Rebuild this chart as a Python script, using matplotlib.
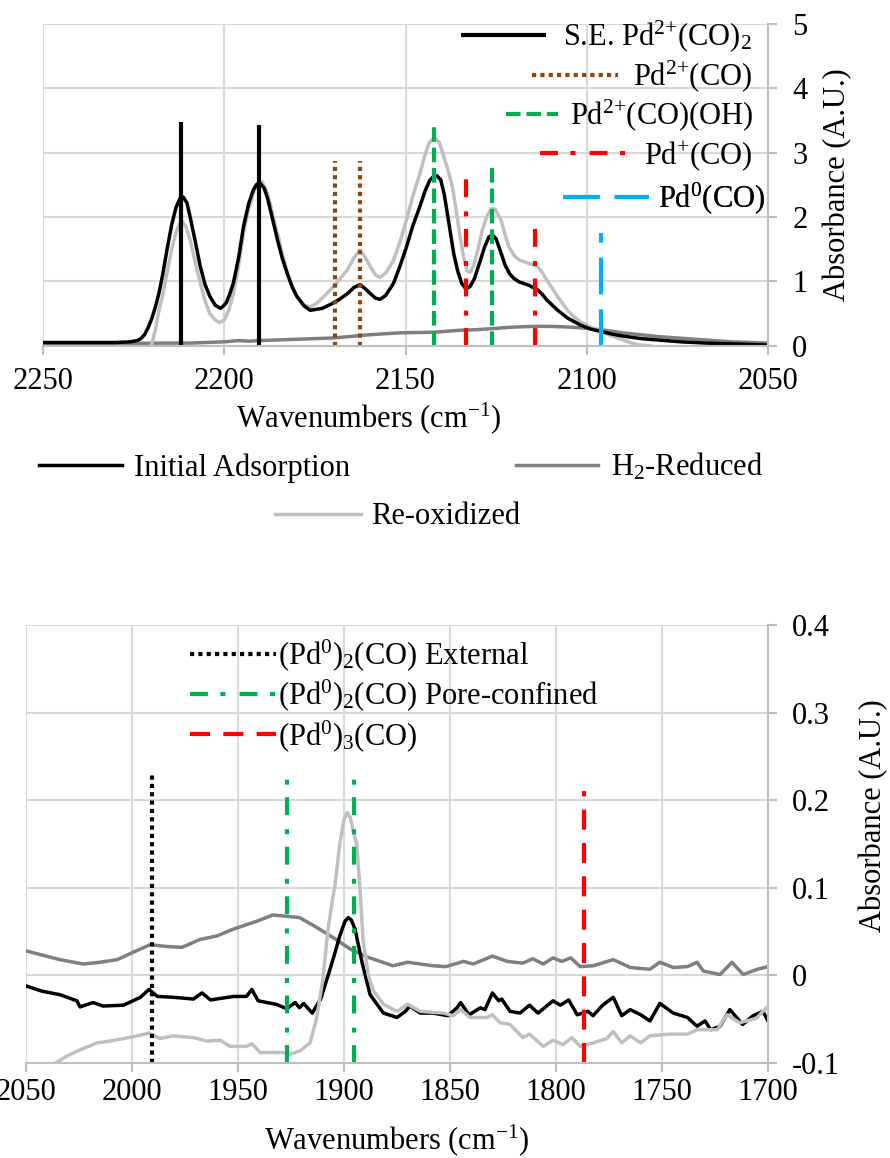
import matplotlib
matplotlib.use('Agg')

import matplotlib.pyplot as plt
import numpy as np

plt.rcParams['font.family'] = ['Liberation Serif', 'DejaVu Serif']
plt.rcParams['mathtext.fontset'] = 'custom'
plt.rcParams['mathtext.rm'] = 'Liberation Serif'
plt.rcParams['mathtext.it'] = 'Liberation Serif:italic'
plt.rcParams['mathtext.bf'] = 'Liberation Serif:bold'
plt.rcParams['axes.unicode_minus'] = False

# ---------------- top panel data (2250-2050 cm-1) ----------------
top_init_wn = [2250, 2240, 2230, 2226, 2224, 2223, 2222, 2221, 2220, 2219, 2218, 2217, 2215.8,
               2214.5, 2213.3, 2212.2, 2211.3, 2210.3, 2209.4, 2208, 2206.6, 2205.3, 2204,
               2202.5, 2201, 2199.5, 2198.5, 2197.5, 2196, 2194.7, 2193.3, 2192, 2191, 2190.2,
               2189, 2188, 2186.6, 2185.3, 2184, 2182.6, 2181.3, 2180, 2178, 2176.3, 2173,
               2170, 2168, 2166, 2164.3, 2162.6, 2161.2, 2159.7, 2158.3, 2157, 2155.5, 2153.3,
               2151.5, 2149.7, 2148, 2146, 2144.5, 2143.3, 2142.3, 2141.3, 2140.3, 2139.3,
               2138.3, 2136.7, 2135.6, 2134.5, 2133.3, 2132.2, 2131, 2129.5, 2128.2, 2127,
               2126, 2125, 2123.7, 2122.5, 2121.3, 2120, 2118.6, 2116, 2113.6, 2112.3, 2111,
               2108, 2105.3, 2101.7, 2099, 2096, 2093, 2090, 2085, 2080.7, 2074, 2067, 2058,
               2050]
top_init_abs = [0.05, 0.05, 0.05, 0.06, 0.08, 0.11, 0.17, 0.28, 0.42, 0.6, 0.82, 1.1, 1.49,
                1.88, 2.15, 2.29, 2.31, 2.22, 2.0, 1.62, 1.23, 0.95, 0.77,
                0.63, 0.58, 0.66, 0.8, 0.97, 1.38, 1.85, 2.2, 2.42, 2.51, 2.53,
                2.45, 2.28, 1.95, 1.64, 1.36, 1.12, 0.92, 0.77, 0.62, 0.55, 0.58,
                0.66, 0.73, 0.81, 0.9, 0.95, 0.89, 0.81, 0.74, 0.72, 0.78, 0.97,
                1.24, 1.54, 1.86, 2.17, 2.42, 2.57, 2.63, 2.64, 2.58, 2.35,
                2.0, 1.43, 1.16, 0.97, 0.88, 0.92, 1.04, 1.3, 1.53, 1.69,
                1.72, 1.66, 1.45, 1.25, 1.12, 1.04, 0.99, 0.94, 0.87, 0.8, 0.71,
                0.55, 0.43, 0.32, 0.26, 0.22, 0.18, 0.15, 0.11, 0.09, 0.06, 0.04, 0.025,
                0.01]

top_red_wn = [2250, 2230, 2220, 2210, 2200, 2196, 2193, 2190, 2180, 2170, 2160, 2151.6,
              2142, 2135, 2130, 2125, 2120, 2115, 2110, 2105, 2100, 2095, 2090, 2085, 2080,
              2075, 2070, 2065, 2060, 2055, 2050]
top_red_abs = [0.03, 0.03, 0.04, 0.04, 0.06, 0.08, 0.07, 0.08, 0.1, 0.12, 0.17, 0.2,
               0.21, 0.24, 0.25, 0.27, 0.29, 0.3, 0.3, 0.29, 0.27, 0.24, 0.2, 0.17, 0.14,
               0.12, 0.1, 0.08, 0.06, 0.05, 0.04]

top_reox_wn = [2222, 2221, 2220, 2219, 2218, 2217, 2215.8, 2214.5, 2213.3, 2212.3, 2211.5,
               2210.5, 2209.4, 2208, 2206.6, 2205.3, 2204, 2202.5, 2201.3, 2200, 2198.7,
               2197.5, 2196, 2194.7, 2193.3, 2192, 2190.8, 2189.6, 2188.3, 2187.3, 2186.5,
               2185, 2183.8, 2182.4, 2181, 2179.5, 2178, 2176.3, 2174.5, 2172.6, 2169.5,
               2167.8, 2166, 2164.3, 2162.6, 2161.2, 2159.7, 2158.3, 2157, 2155.3, 2153.3,
               2151.5, 2149.7, 2148, 2146, 2144.7, 2143.5, 2142.5, 2141.5, 2140.6, 2139.5,
               2138.4, 2137, 2136, 2135, 2134, 2133, 2132.2, 2131.2, 2130, 2128.8, 2127.5,
               2126.3, 2125.3, 2123.7, 2122.5, 2121.5, 2120, 2118.6, 2116, 2113.6, 2112.3,
               2111, 2109.5, 2108, 2105.3, 2103.5, 2101.7, 2099, 2096, 2093, 2090, 2087.5,
               2085.5, 2083, 2080, 2070, 2050]
top_reox_abs = [-0.1, -0.05, 0.02, 0.25, 0.55, 0.78, 1.13, 1.5, 1.76, 1.9, 1.93,
                1.84, 1.64, 1.3, 0.97, 0.7, 0.5, 0.4, 0.36, 0.4, 0.56,
                0.81, 1.25, 1.75, 2.12, 2.37, 2.51, 2.55, 2.4, 2.2, 2.0,
                1.68, 1.38, 1.1, 0.87, 0.72, 0.63, 0.6, 0.66, 0.76, 0.94,
                1.06, 1.18, 1.36, 1.49, 1.38, 1.23, 1.1, 1.06, 1.14, 1.33,
                1.62, 1.96, 2.32, 2.68, 2.95, 3.15, 3.21, 3.21, 3.15, 2.95,
                2.75, 2.45, 2.1, 1.72, 1.38, 1.16, 1.14, 1.25, 1.5, 1.8, 2.02,
                2.13, 2.12, 1.96, 1.72, 1.54, 1.4, 1.33, 1.28, 1.23, 1.14,
                1.02, 0.89, 0.76, 0.55, 0.45, 0.37, 0.29, 0.22, 0.15, 0.09, 0.04,
                0.01, 0.0, -0.03, -0.1, -0.1]

# assignment markers (position, height)
se_wn, se_h = [2212, 2190.5], [3.48, 3.43]
pd2co_wn, pd2co_h = [2169.5, 2162.6], [2.87, 2.87]
pd2oh_wn, pd2oh_h = [2142.2, 2126.2], [3.45, 2.84]
pd1_wn, pd1_h = [2133.4, 2114.3], [2.72, 1.95]
pd0_wn, pd0_h = [2096.1], [1.75]

top_xticks = [2250, 2200, 2150, 2100, 2050]
top_yticks = [0, 1, 2, 3, 4, 5]

# ---------------- bottom panel data (2050-1700 cm-1) ----------------
bot_init_wn = [2050, 2042.5, 2034, 2026, 2024.5, 2018.4, 2013.6, 2004, 1996, 1992, 1988, 1980.4,
               1971, 1967, 1963, 1952, 1946, 1943.5, 1940.5, 1932, 1927, 1923, 1921, 1919,
               1915, 1911, 1906.6, 1904, 1902, 1899.5, 1898, 1896.5, 1894.8, 1891.5, 1887.7,
               1881.4, 1875, 1871,
               1869, 1864, 1858, 1851, 1846.7, 1845, 1841, 1835.7, 1833.5, 1830, 1827, 1825.6,
               1821.7, 1817, 1812.5, 1808.5, 1801.4, 1798, 1794, 1790, 1785, 1782.5, 1778,
               1773, 1769, 1765, 1760, 1755.7, 1751, 1744.7, 1738, 1733.5, 1729.7, 1727,
               1722.6, 1718, 1712, 1707, 1702.4, 1700]
bot_init_abs = [-0.012, -0.018, -0.022, -0.029, -0.036, -0.031, -0.035, -0.034, -0.025, -0.016,
                -0.024, -0.025, -0.027, -0.02, -0.028, -0.024, -0.024, -0.016, -0.029, -0.033,
                -0.038, -0.031, -0.037, -0.032, -0.043, -0.027, 0.007, 0.028, 0.045, 0.062,
                0.066, 0.063, 0.053, 0.015, -0.022,
                -0.043, -0.048, -0.041, -0.035, -0.043, -0.043, -0.046, -0.037,
                -0.031, -0.045, -0.037, -0.039, -0.02, -0.029, -0.027, -0.041, -0.043, -0.034,
                -0.043, -0.029, -0.034, -0.028, -0.045, -0.041, -0.046, -0.034, -0.025, -0.046,
                -0.039, -0.045, -0.052, -0.032, -0.043, -0.048, -0.058, -0.052, -0.062, -0.058,
                -0.039, -0.056, -0.046, -0.041, -0.052]

bot_red_wn = [2050, 2034, 2023, 2015, 2007, 1998, 1991.5, 1983.5, 1976.4, 1968, 1960, 1952,
              1941, 1933.5, 1921, 1913, 1905, 1897, 1889, 1877, 1870, 1858, 1852, 1843.6,
              1839, 1830, 1823, 1815.6, 1811, 1806, 1801.4, 1797.3, 1793, 1788.6, 1782.5,
              1773, 1765, 1755.7, 1751, 1744.7, 1738, 1733.5, 1730.5, 1722.6, 1717, 1711.7,
              1705, 1700]
bot_red_abs = [0.028, 0.018, 0.013, 0.015, 0.018, 0.028, 0.035, 0.033, 0.032, 0.041, 0.045,
               0.053, 0.062, 0.069, 0.066, 0.055, 0.043, 0.03, 0.021, 0.011, 0.015, 0.011,
               0.01, 0.016, 0.013, 0.022, 0.016, 0.014, 0.019, 0.013, 0.02, 0.016, 0.02, 0.01,
               0.011, 0.018, 0.009, 0.007, 0.015, 0.009, 0.01, 0.015, 0.005, 0.001, 0.015,
               0.001, 0.007, 0.01]

bot_reox_wn = [2050, 2042, 2036, 2030.7, 2024.5, 2016.5, 2010.4, 1999.5, 1992, 1986.8, 1980.6,
               1971, 1964.6, 1958.5, 1953.8, 1946, 1943.4, 1939.6, 1928.6, 1925.5, 1920.7,
               1916, 1913, 1910, 1907.5, 1905.5, 1904.3, 1902, 1900, 1898.5, 1897, 1895.5, 1894,
               1892.5, 1891, 1888.5, 1886,
               1881.4, 1875, 1870, 1864, 1853, 1848.5, 1845, 1840.6, 1832.5, 1830, 1826.4,
               1821.7, 1815.6, 1812.5, 1806, 1801.4, 1796.7, 1792.5, 1788.6, 1782.5, 1776,
               1773, 1769, 1765, 1760, 1755.7, 1746, 1738, 1733.5, 1724, 1719.3, 1713.4,
               1705.5, 1700]
bot_reox_abs = [-0.125, -0.112, -0.1, -0.092, -0.085, -0.077, -0.075, -0.07, -0.066, -0.072,
                -0.069, -0.071, -0.075, -0.074, -0.081, -0.081, -0.078, -0.088, -0.088, -0.09,
                -0.086, -0.077, -0.05, -0.005, 0.053, 0.085, 0.102, 0.15, 0.178, 0.186, 0.18,
                0.163, 0.15, 0.1, 0.04,
                0.0, -0.018, -0.033, -0.041, -0.033, -0.041, -0.043, -0.046, -0.039, -0.048,
                -0.048, -0.045, -0.054, -0.056, -0.071, -0.067, -0.081, -0.074, -0.079, -0.071,
                -0.081, -0.077, -0.072, -0.064, -0.077, -0.069, -0.077, -0.069, -0.067, -0.067,
                -0.062, -0.062, -0.045, -0.054, -0.049, -0.035]

ext_wn, ext_h = [1990.7], [0.232]
pore_wn, pore_h = [1927, 1895.1], [0.232, 0.237]
pd3_wn, pd3_h = [1787], [0.211]

bot_xticks = [2050, 2000, 1950, 1900, 1850, 1800, 1750, 1700]
bot_yticks = [-0.1, 0, 0.1, 0.2, 0.3, 0.4]
bot_ylabels = ['-0.1', '0', '0.1', '0.2', '0.3', '0.4']

# ---------------- styles ----------------
FS = 22
GRID = '#d9d9d9'
AXC = '#bfbfbf'
C_INIT, C_RED, C_REOX = 'black', '#7f7f7f', '#bfbfbf'
BROWN, GREEN, RED, BLUE = '#8b4513', '#00b050', '#ff0000', '#00b0f0'
SQDOT = (0, (1, 1))
DASH = (0, (3.5, 1.4))
DASHDOT = (0, (4.3, 3, 1.2, 3.4))
LONGDASH = (0, (8.8, 3.6))
DASH2 = (0, (4.8, 3.2))


def style_axes(ax, xticks, xpad):
    for s in ['top', 'left']:
        ax.spines[s].set_visible(False)
    for s in ['bottom', 'right']:
        ax.spines[s].set_color(AXC)
        ax.spines[s].set_linewidth(1.5)
    ax.grid(True, color=GRID, linewidth=1.5)
    ax.set_axisbelow(True)
    ax.yaxis.tick_right()
    ax.yaxis.set_label_position('right')
    ax.set_xticks(xticks)
    ax.tick_params(axis='x', labelsize=FS, length=6.5, width=1.5, color=AXC, pad=xpad)
    ax.tick_params(axis='y', labelsize=FS, length=6.5, width=1.5, color=AXC, pad=11,
                   left=False, right=True)


fig = plt.figure(figsize=(8.9, 11.58), dpi=100)

# ================= TOP =================
ax1 = fig.add_axes([43 / 890, 1 - 345.7 / 1158, 725 / 890, 321.7 / 1158])
l_red, = ax1.plot(top_red_wn, top_red_abs, color=C_RED, lw=2.5)
l_reox, = ax1.plot(top_reox_wn, top_reox_abs, color=C_REOX, lw=2.5)
l_init, = ax1.plot(top_init_wn, top_init_abs, color=C_INIT, lw=2.5)

v1 = ax1.vlines(se_wn, 0, se_h, colors='black', lw=3)
v2 = ax1.vlines(pd2co_wn, 0, pd2co_h, colors=BROWN, lw=3, linestyles=[SQDOT])
v3 = ax1.vlines(pd2oh_wn, 0, pd2oh_h, colors=GREEN, lw=3, linestyles=[DASH])
v4 = ax1.vlines(pd1_wn, 0, pd1_h, colors=RED, lw=3, linestyles=[DASHDOT])
v5 = ax1.vlines(pd0_wn, 0, pd0_h, colors=BLUE, lw=3, linestyles=[LONGDASH])

ax1.set_xlim(2250, 2050)
ax1.set_ylim(0, 5)
style_axes(ax1, top_xticks, 9)
ax1.set_yticks(top_yticks)
ax1.set_xlabel('Wavenumbers (cm$^{-1}$)', fontsize=FS)
ax1.xaxis.set_label_coords(0.449, -0.17)
ax1.set_ylabel('Absorbance (A.U.)', fontsize=FS)
ax1.yaxis.set_label_coords(1.076, 0.5)

# right-aligned assignment legend (one entry per row, like the original)
top_entries = [
    (v1, 'S.E. Pd$^{2{+}}$(CO)$_2$', 2.8, 0.55, 0.978, 0.962),
    (v2, 'Pd$^{2{+}}$(CO)', 2.8, 0.5, 0.978, 0.838),
    (v3, 'Pd$^{2{+}}$(CO)(OH)', 1.7, 0.4, 0.980, 0.716),
    (v4, 'Pd$^{+}$(CO)', 2.9, 0.5, 0.978, 0.590),
    (v5, 'Pd$^{0}$(CO)', 2.8, 0.3, 0.996, 0.458),
]
for h, lab, hl, pad, xa, ya in top_entries:
    leg = ax1.legend([h], [lab], loc='center right', bbox_to_anchor=(xa, ya),
                     frameon=False, fontsize=FS, handlelength=hl, handletextpad=pad,
                     borderpad=0, borderaxespad=0)
    ax1.add_artist(leg)

# series legend below the top panel
fig.legend([l_init, l_red], ['Initial Adsorption', 'H$_2$-Reduced'], ncol=2,
           loc='center', bbox_to_anchor=(0.4506, 1 - 467 / 1158), frameon=False,
           fontsize=FS, handlelength=2.7, handletextpad=0.42, columnspacing=5.4,
           borderpad=0, borderaxespad=0)
fig.legend([l_reox], ['Re-oxidized'], loc='center',
           bbox_to_anchor=(0.447, 1 - 517 / 1158), frameon=False,
           fontsize=FS, handlelength=2.8, handletextpad=0.36,
           borderpad=0, borderaxespad=0)

# ================= BOTTOM =================
ax2 = fig.add_axes([26 / 890, 1 - 1063 / 1158, 742 / 890, 438 / 1158])
ax2.plot(bot_red_wn, bot_red_abs, color=C_RED, lw=2.5)
ax2.plot(bot_init_wn, bot_init_abs, color=C_INIT, lw=2.5)
ax2.plot(bot_reox_wn, bot_reox_abs, color=C_REOX, lw=2.5)

w1 = ax2.vlines(ext_wn, -0.1, ext_h, colors='black', lw=3, linestyles=[SQDOT])
w2 = ax2.vlines(pore_wn, -0.1, pore_h, colors=GREEN, lw=3, linestyles=[DASHDOT])
w3 = ax2.vlines(pd3_wn, -0.1, pd3_h, colors=RED, lw=3, linestyles=[DASH2])

ax2.set_xlim(2050, 1700)
ax2.set_ylim(-0.1, 0.4)
style_axes(ax2, bot_xticks, 4)
ax2.set_yticks(bot_yticks)
ax2.set_yticklabels(bot_ylabels)
ax2.set_xlabel('Wavenumbers (cm$^{-1}$)', fontsize=FS)
ax2.xaxis.set_label_coords(0.5, -0.135)
ax2.set_ylabel('Absorbance (A.U.)', fontsize=FS)
ax2.yaxis.set_label_coords(1.122, 0.564)

ax2.legend([w1, w2, w3],
           ['(Pd$^{0}$)$_2$(CO) External', '(Pd$^{0}$)$_2$(CO) Pore-confined',
            '(Pd$^{0}$)$_3$(CO)'],
           loc='upper left', bbox_to_anchor=(0.221, 0.972), frameon=False, fontsize=FS,
           handlelength=2.8, handletextpad=0.08, labelspacing=0.15,
           borderpad=0, borderaxespad=0)

fig.savefig('out.png', dpi=100)
